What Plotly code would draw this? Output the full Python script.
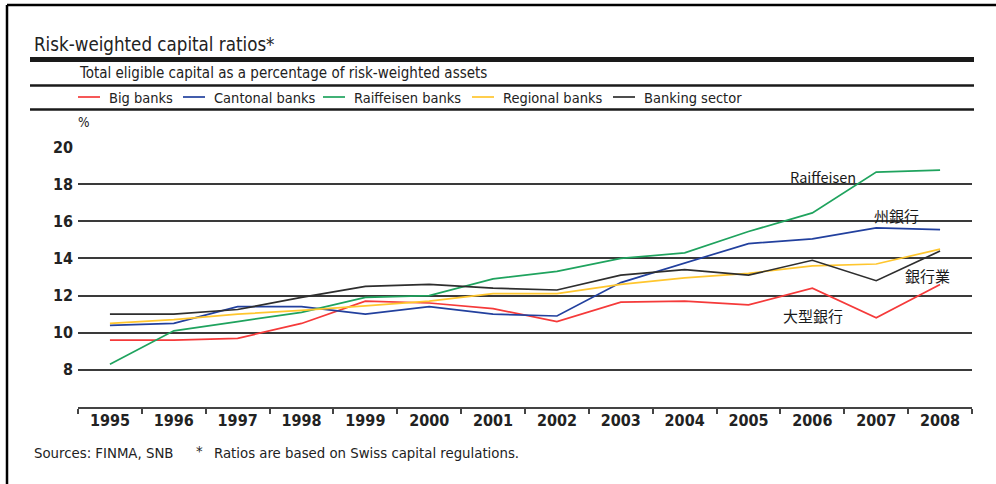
import plotly.graph_objects as go

# Risk-weighted capital ratios by bank group, in percent
years = ["1995", "1996", "1997", "1998", "1999", "2000", "2001",
         "2002", "2003", "2004", "2005", "2006", "2007", "2008"]
big_banks = [9.6, 9.6, 9.7, 10.5, 11.7, 11.6, 11.3, 10.6, 11.65, 11.7, 11.5, 12.4, 10.8, 12.6]
cantonal_banks = [10.4, 10.5, 11.4, 11.4, 11.0, 11.4, 11.0, 10.9, 12.7, 13.75, 14.8, 15.05, 15.65, 15.55]
raiffeisen_banks = [8.3, 10.1, 10.6, 11.1, 11.9, 12.0, 12.9, 13.3, 14.0, 14.3, 15.45, 16.45, 18.65, 18.75]
regional_banks = [10.5, 10.7, 11.0, 11.2, 11.45, 11.7, 12.1, 12.1, 12.6, 12.95, 13.2, 13.6, 13.7, 14.5]
banking_sector = [11.0, 11.0, 11.25, 11.9, 12.5, 12.6, 12.4, 12.3, 13.1, 13.4, 13.1, 13.9, 12.8, 14.4]

series_names = ["Big banks", "Cantonal banks", "Raiffeisen banks", "Regional banks", "Banking sector"]
series_values = [big_banks, cantonal_banks, raiffeisen_banks, regional_banks, banking_sector]
series_colors = ["#f53a3a", "#22409e", "#1fa35e", "#ffc62e", "#2e2e2e"]

y_ticks = [8, 10, 12, 14, 16, 18, 20]

W, H = 996, 484
L, R, T, B = 78, 24, 147, 77
PW, PH = W - L - R, H - T - B

NARROW = "Liberation Sans Narrow, Arial Narrow, DejaVu Sans Condensed, sans-serif"
TXT = "#222222"


def px(x):
    return (x - L) / PW


def py(y):
    return (H - B - y) / PH


fig = go.Figure()
for name, vals, col in zip(series_names, series_values, series_colors):
    fig.add_trace(go.Scatter(x=years, y=vals, mode="lines", name=name,
                             line=dict(color=col, width=1.7), showlegend=False))

shapes = []
# outer frame (top and left edges)
shapes.append(dict(type="line", xref="paper", yref="paper", x0=px(7), x1=px(996), y0=py(5), y1=py(5),
                   line=dict(color="#000000", width=2.5)))
shapes.append(dict(type="line", xref="paper", yref="paper", x0=px(7), x1=px(7), y0=py(5), y1=py(484),
                   line=dict(color="#000000", width=2.5)))
# header rules
for yy, w in [(59.5, 5), (85.5, 2.5), (109.5, 2.5)]:
    shapes.append(dict(type="line", xref="paper", yref="paper", x0=px(30), x1=px(974), y0=py(yy), y1=py(yy),
                       line=dict(color="#1a1a1a", width=w)))

annotations = []
annotations.append(dict(text="Risk-weighted capital ratios*", xref="paper", yref="paper",
                        x=px(32), y=py(44), xanchor="left", yanchor="middle", showarrow=False,
                        font=dict(family=NARROW, size=18.6, color=TXT)))
annotations.append(dict(text="Total eligible capital as a percentage of risk-weighted assets", xref="paper",
                        yref="paper", x=px(77), y=py(73), xanchor="left", yanchor="middle", showarrow=False,
                        font=dict(family=NARROW, size=15, color=TXT)))

# legend row
legend_x = [78, 183, 323, 472, 613]
for name, col, lx in zip(series_names, series_colors, legend_x):
    shapes.append(dict(type="line", xref="paper", yref="paper", x0=px(lx), x1=px(lx + 22),
                       y0=py(97), y1=py(97), line=dict(color=col, width=1.7)))
    annotations.append(dict(text=name, xref="paper", yref="paper", x=px(lx + 29), y=py(98),
                            xanchor="left", yanchor="middle", showarrow=False,
                            font=dict(family=NARROW, size=14.5, color=TXT)))

annotations.append(dict(text="%", xref="paper", yref="paper", x=px(84), y=py(122),
                        xanchor="center", yanchor="middle", showarrow=False,
                        font=dict(family=NARROW, size=13.5, color=TXT)))

# direct series labels
LABEL_FONT = "Noto Sans CJK JP, Noto Sans, sans-serif"
for text, cx, cy, fs in [("Raiffeisen", 823, 176, 14.5), ("州銀行", 896, 215, 15),
                         ("銀行業", 927, 275, 15), ("大型銀行", 813, 315, 15)]:
    annotations.append(dict(text=text, xref="paper", yref="paper", x=px(cx), y=py(cy),
                            xanchor="center", yanchor="middle", showarrow=False,
                            font=dict(family=LABEL_FONT, size=fs, color="#1a1a1a")))

# footer
annotations.append(dict(text="Sources: FINMA, SNB", xref="paper", yref="paper", x=px(32), y=py(452),
                        xanchor="left", yanchor="middle", showarrow=False,
                        font=dict(family=NARROW, size=14.8, color=TXT)))
annotations.append(dict(text="*", xref="paper", yref="paper", x=px(199), y=py(450),
                        xanchor="center", yanchor="middle", showarrow=False,
                        font=dict(family=NARROW, size=14.8, color=TXT)))
annotations.append(dict(text="Ratios are based on Swiss capital regulations.", xref="paper", yref="paper",
                        x=px(212), y=py(452), xanchor="left", yanchor="middle", showarrow=False,
                        font=dict(family=NARROW, size=14.8, color=TXT)))

fig.update_layout(
    width=W, height=H,
    margin=dict(l=L, r=R, t=T, b=B, pad=0),
    paper_bgcolor="white", plot_bgcolor="white",
    shapes=shapes, annotations=annotations,
    xaxis=dict(type="category", categoryorder="array", categoryarray=years,
               tickson="boundaries", ticks="outside", ticklen=5, tickwidth=1.5, tickcolor="#444444",
               showline=True, linecolor="#444444", linewidth=1.5, showgrid=False, zeroline=False,
               range=[-0.5, len(years) - 0.5], ticklabelstandoff=-2,
               tickfont=dict(family=NARROW, size=16, color=TXT, weight="bold")),
    yaxis=dict(range=[6, 20], tickvals=y_ticks, showgrid=True, gridcolor="#3a3a3a", gridwidth=2,
               zeroline=False, showline=False, ticks="", ticklabelstandoff=4,
               tickfont=dict(family=NARROW, size=16, color=TXT, weight="bold")),
)

fig.write_html("out.html")
